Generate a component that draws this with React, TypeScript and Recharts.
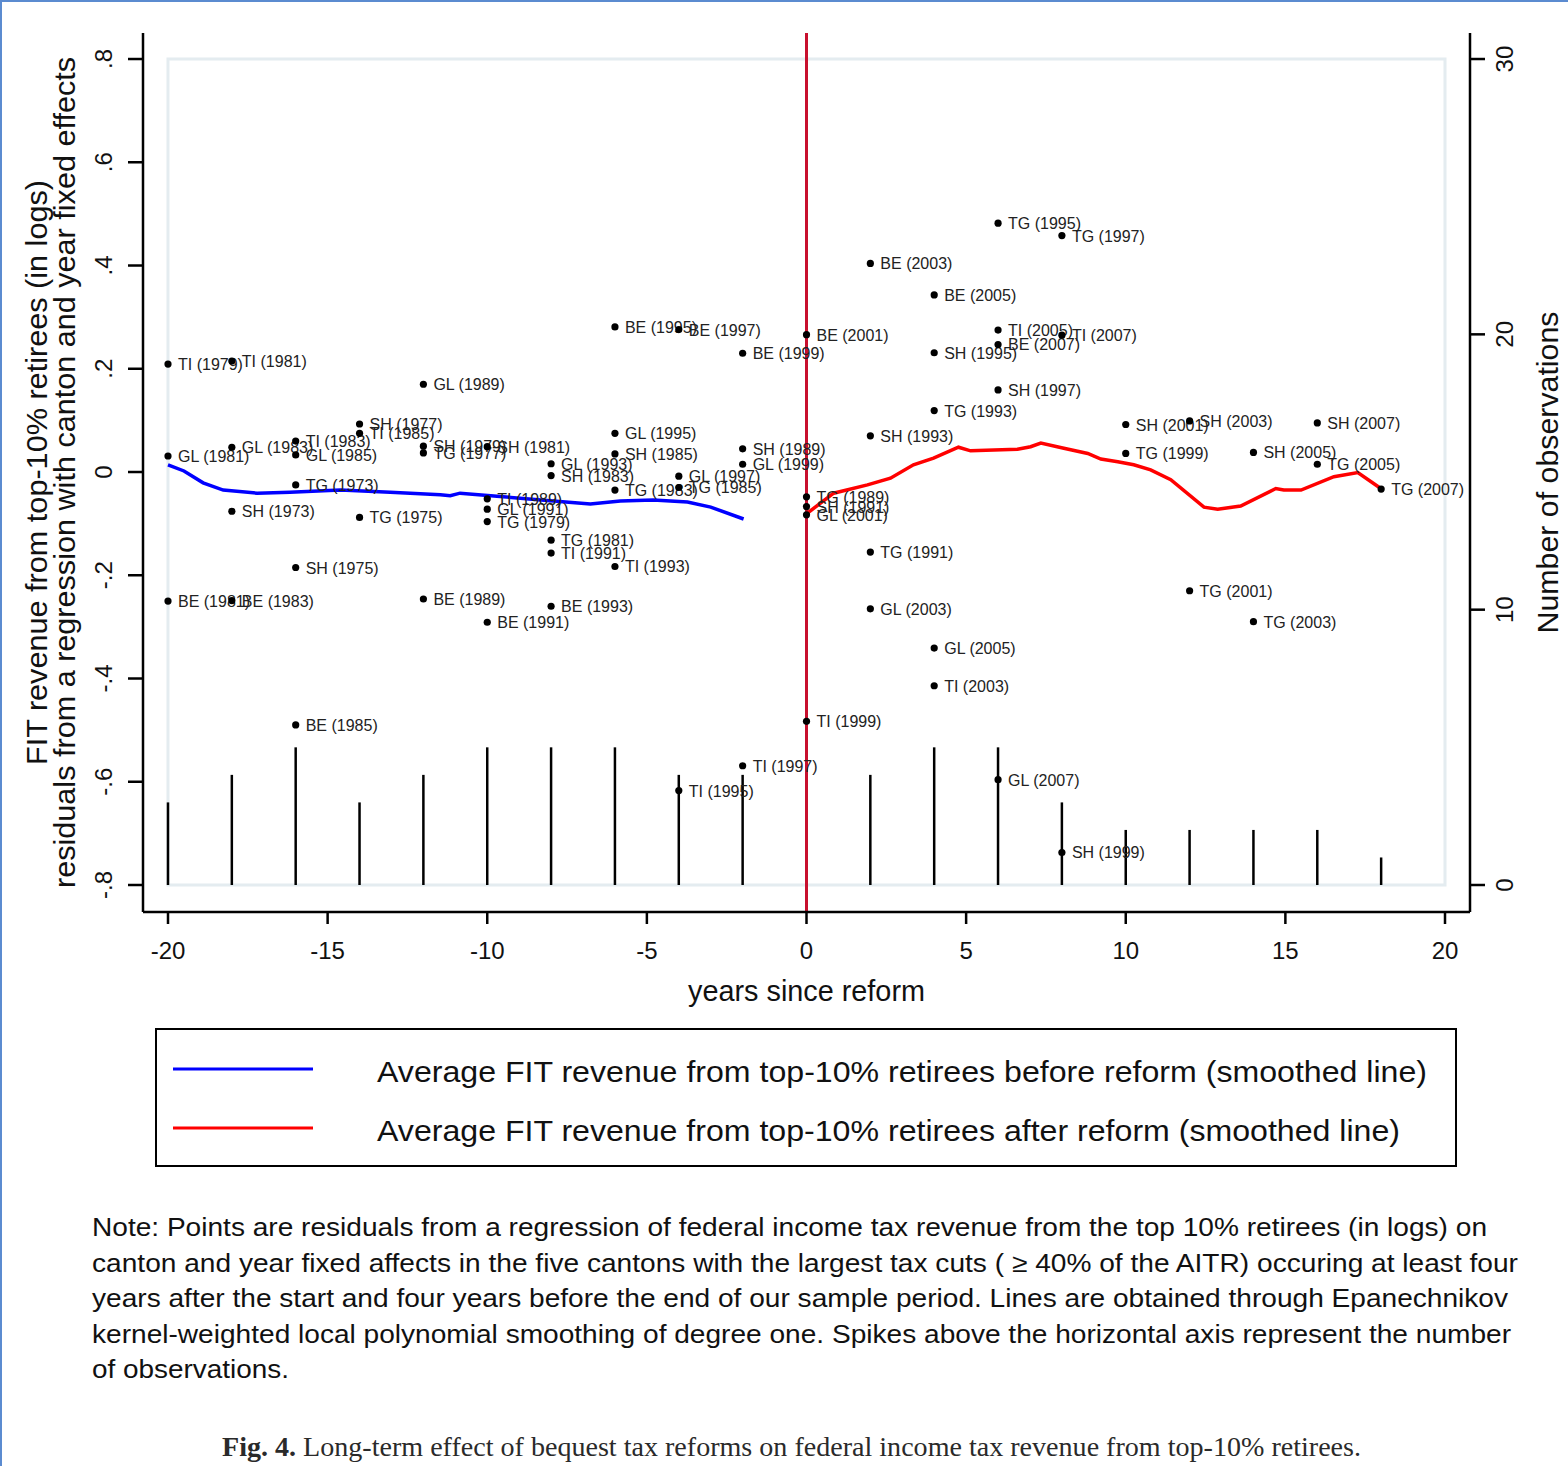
import React from 'react';
import {
  Bar,
  ComposedChart,
  Legend,
  Line,
  ReferenceArea,
  ReferenceLine,
  Scatter,
  XAxis,
  YAxis,
} from 'recharts';

const FONT = '"Liberation Sans", Arial, sans-serif';

// years since reform where observations exist, and how many of them
const SPIKE_X = [-20, -18, -16, -14, -12, -10, -8, -6, -4, -2, 0, 2, 4, 6, 8, 10, 12, 14, 16, 18];
const OBS_COUNT = [3, 4, 5, 3, 4, 5, 5, 5, 4, 4, 5, 4, 5, 5, 3, 2, 2, 2, 2, 1];

// residuals, canton (year)
const RESIDUALS = [
  { label: 'TI (1979)', x: -20, y: 0.209 },
  { label: 'GL (1981)', x: -20, y: 0.031 },
  { label: 'BE (1981)', x: -20, y: -0.25 },
  { label: 'TI (1981)', x: -18, y: 0.215 },
  { label: 'GL (1983)', x: -18, y: 0.048 },
  { label: 'SH (1973)', x: -18, y: -0.076 },
  { label: 'BE (1983)', x: -18, y: -0.249 },
  { label: 'TI (1983)', x: -16, y: 0.06 },
  { label: 'GL (1985)', x: -16, y: 0.033 },
  { label: 'TG (1973)', x: -16, y: -0.025 },
  { label: 'SH (1975)', x: -16, y: -0.185 },
  { label: 'BE (1985)', x: -16, y: -0.49 },
  { label: 'SH (1977)', x: -14, y: 0.093 },
  { label: 'TI (1985)', x: -14, y: 0.075 },
  { label: 'TG (1975)', x: -14, y: -0.088 },
  { label: 'GL (1989)', x: -12, y: 0.17 },
  { label: 'SH (1979)', x: -12, y: 0.05 },
  { label: 'TG (1977)', x: -12, y: 0.037 },
  { label: 'BE (1989)', x: -12, y: -0.246 },
  { label: 'SH (1981)', x: -10, y: 0.049 },
  { label: 'TI (1989)', x: -10, y: -0.052 },
  { label: 'GL (1991)', x: -10, y: -0.072 },
  { label: 'TG (1979)', x: -10, y: -0.096 },
  { label: 'BE (1991)', x: -10, y: -0.291 },
  { label: 'GL (1993)', x: -8, y: 0.016 },
  { label: 'SH (1983)', x: -8, y: -0.007 },
  { label: 'TG (1981)', x: -8, y: -0.132 },
  { label: 'TI (1991)', x: -8, y: -0.157 },
  { label: 'BE (1993)', x: -8, y: -0.26 },
  { label: 'BE (1995)', x: -6, y: 0.281 },
  { label: 'GL (1995)', x: -6, y: 0.075 },
  { label: 'SH (1985)', x: -6, y: 0.035 },
  { label: 'TG (1983)', x: -6, y: -0.035 },
  { label: 'TI (1993)', x: -6, y: -0.183 },
  { label: 'BE (1997)', x: -4, y: 0.276 },
  { label: 'GL (1997)', x: -4, y: -0.008 },
  { label: 'TG (1985)', x: -4, y: -0.03 },
  { label: 'TI (1995)', x: -4, y: -0.617 },
  { label: 'BE (1999)', x: -2, y: 0.23 },
  { label: 'SH (1989)', x: -2, y: 0.045 },
  { label: 'GL (1999)', x: -2, y: 0.015 },
  { label: 'TI (1997)', x: -2, y: -0.569 },
  { label: 'BE (2001)', x: 0, y: 0.266 },
  { label: 'TG (1989)', x: 0, y: -0.048 },
  { label: 'SH (1991)', x: 0, y: -0.067 },
  { label: 'GL (2001)', x: 0, y: -0.083 },
  { label: 'TI (1999)', x: 0, y: -0.483 },
  { label: 'BE (2003)', x: 2, y: 0.404 },
  { label: 'SH (1993)', x: 2, y: 0.07 },
  { label: 'TG (1991)', x: 2, y: -0.155 },
  { label: 'GL (2003)', x: 2, y: -0.265 },
  { label: 'BE (2005)', x: 4, y: 0.343 },
  { label: 'SH (1995)', x: 4, y: 0.231 },
  { label: 'TG (1993)', x: 4, y: 0.119 },
  { label: 'GL (2005)', x: 4, y: -0.341 },
  { label: 'TI (2003)', x: 4, y: -0.414 },
  { label: 'TG (1995)', x: 6, y: 0.482 },
  { label: 'TI (2005)', x: 6, y: 0.275 },
  { label: 'BE (2007)', x: 6, y: 0.247 },
  { label: 'SH (1997)', x: 6, y: 0.159 },
  { label: 'GL (2007)', x: 6, y: -0.596 },
  { label: 'TG (1997)', x: 8, y: 0.458 },
  { label: 'TI (2007)', x: 8, y: 0.265 },
  { label: 'SH (1999)', x: 8, y: -0.737 },
  { label: 'SH (2001)', x: 10, y: 0.092 },
  { label: 'TG (1999)', x: 10, y: 0.036 },
  { label: 'SH (2003)', x: 12, y: 0.099 },
  { label: 'TG (2001)', x: 12, y: -0.23 },
  { label: 'SH (2005)', x: 14, y: 0.038 },
  { label: 'TG (2003)', x: 14, y: -0.29 },
  { label: 'SH (2007)', x: 16, y: 0.095 },
  { label: 'TG (2005)', x: 16, y: 0.015 },
  { label: 'TG (2007)', x: 18, y: -0.033 },
];

// smoothed lines
const BEFORE_X = [-20, -19.5, -18.9, -18.27, -17.21, -16.18, -14.6, -13.04, -11.47, -11.16, -10.85, -9.5, -7.93, -6.77, -5.83, -4.8, -3.73, -3.0, -1.97];
const BEFORE_Y = [0.014, 0.002, -0.021, -0.035, -0.041, -0.039, -0.035, -0.039, -0.044, -0.046, -0.041, -0.048, -0.056, -0.062, -0.056, -0.054, -0.058, -0.068, -0.091];
const AFTER_X = [0.02, 0.85, 1.91, 2.63, 3.35, 3.98, 4.76, 5.14, 6.61, 7.02, 7.34, 8.06, 8.81, 9.22, 9.75, 10.25, 10.78, 11.41, 12.45, 12.88, 13.6, 14.7, 14.95, 15.49, 16.52, 17.27, 17.99];
const AFTER_Y = [-0.08, -0.041, -0.025, -0.012, 0.014, 0.027, 0.048, 0.041, 0.044, 0.049, 0.056, 0.046, 0.036, 0.025, 0.02, 0.014, 0.004, -0.015, -0.068, -0.072, -0.066, -0.032, -0.035, -0.035, -0.009, -0.001, -0.032];

const X_TICKS = [-20, -15, -10, -5, 0, 5, 10, 15, 20];
const Y_TICKS = [-0.8, -0.6, -0.4, -0.2, 0, 0.2, 0.4, 0.6, 0.8];
const COUNT_TICKS = [0, 10, 20, 30];

const BEFORE_NAME = 'Average FIT revenue from top-10% retirees before reform (smoothed line)';
const AFTER_NAME = 'Average FIT revenue from top-10% retirees after reform (smoothed line)';
const LEGEND_ORDER = [BEFORE_NAME, AFTER_NAME];

const NOTE_LINES = [
  'Note: Points are residuals from a regression of federal income tax revenue from the top 10% retirees (in logs) on',
  'canton and year fixed affects in the five cantons with the largest tax cuts ( \u2265 40% of the AITR) occuring at least four',
  'years after the start and four years before the end of our sample period. Lines are obtained through Epanechnikov',
  'kernel-weighted local polynomial smoothing of degree one. Spikes above the horizontal axis represent the number',
  'of observations.',
];
const NOTE_WIDTHS = [1395, 1426, 1416, 1419, 197];

const spikes = SPIKE_X.map((x, i) => ({ x, count: OBS_COUNT[i] }));
const before = BEFORE_X.map((x, i) => ({ x, y: BEFORE_Y[i] }));
const after = AFTER_X.map((x, i) => ({ x, y: AFTER_Y[i] }));

// left axis runs -.8..8 on the same pixels as 0..30 observations on the right
const Y_DOMAIN: [number, number] = [-0.8523, 0.8504];
const toCount = (v: number) => ((v + 0.8) / 1.6) * 30;

const fmtResid = (v: number) =>
  Math.abs(v) < 1e-9 ? '0' : (v < 0 ? '-' : '') + '.' + Math.round(Math.abs(v) * 10);

const LeftTick = (p: any) => (
  <text
    x={p.x - 22}
    y={p.y}
    transform={`rotate(-90 ${p.x - 22} ${p.y})`}
    textAnchor="middle"
    dominantBaseline="central"
    fontSize={24}
    fontFamily={FONT}
    fill="#111"
  >
    {fmtResid(p.payload.value)}
  </text>
);

const RightTick = (p: any) => (
  <text
    x={p.x + 18}
    y={p.y}
    transform={`rotate(-90 ${p.x + 18} ${p.y})`}
    textAnchor="middle"
    dominantBaseline="central"
    fontSize={24}
    fontFamily={FONT}
    fill="#111"
  >
    {p.payload.value}
  </text>
);

const BottomTick = (p: any) => (
  <text
    x={p.x}
    y={p.y + 24}
    textAnchor="middle"
    dominantBaseline="central"
    fontSize={24}
    fontFamily={FONT}
    fill="#111"
  >
    {p.payload.value}
  </text>
);

// spike: a thin stem from the zero count up to the bar top
const Spike = (p: any) => {
  const cx = p.x + p.width / 2;
  return <line x1={cx} x2={cx} y1={p.y} y2={p.y + p.height} stroke="#000" strokeWidth={2.5} />;
};

const ResidualDot = (p: any) => {
  const { cx, cy, payload } = p;
  return (
    <g>
      <circle cx={cx} cy={cy} r={3.6} fill="#000" />
      <text x={cx + 10} y={cy + 6} fontSize={16} fontFamily={FONT} fill="#222">
        {payload.label}
      </text>
    </g>
  );
};

const LeftTitle = (p: any) => {
  const vb = p.viewBox;
  const cy = vb.y + vb.height / 2;
  return (
    <g fontFamily={FONT} fontSize={30} fill="#111">
      <text x={36} y={cy} transform={`rotate(-90 36 ${cy})`} textAnchor="middle" dominantBaseline="central" textLength={585} lengthAdjust="spacingAndGlyphs">
        FIT revenue from top-10% retirees (in logs)
      </text>
      <text x={64} y={cy} transform={`rotate(-90 64 ${cy})`} textAnchor="middle" dominantBaseline="central" textLength={831} lengthAdjust="spacingAndGlyphs">
        residuals from a regression with canton and year fixed effects
      </text>
    </g>
  );
};

const RightTitle = (p: any) => {
  const vb = p.viewBox;
  const cx = vb.x + 77;
  const cy = vb.y + vb.height / 2;
  return (
    <text x={cx} y={cy} transform={`rotate(-90 ${cx} ${cy})`} textAnchor="middle" dominantBaseline="central" fontFamily={FONT} fontSize={30} fill="#111" textLength={322} lengthAdjust="spacingAndGlyphs">
      Number of observations
    </text>
  );
};

const BottomTitle = (p: any) => {
  const vb = p.viewBox;
  return (
    <text x={vb.x + vb.width / 2} y={vb.y + 79} textAnchor="middle" dominantBaseline="central" fontFamily={FONT} fontSize={29} fill="#111" textLength={237} lengthAdjust="spacingAndGlyphs">
      years since reform
    </text>
  );
};

const LegendBox = (p: any) => {
  const items = (p.payload || [])
    .filter((e: any) => LEGEND_ORDER.includes(e.value))
    .sort((a: any, b: any) => LEGEND_ORDER.indexOf(a.value) - LEGEND_ORDER.indexOf(b.value));
  const widths = [1050, 1023];
  return (
    <svg width={1302} height={139} style={{ display: 'block' }}>
      <rect x={1} y={1} width={1300} height={137} fill="#fff" stroke="#000" strokeWidth={2} />
      {items.map((e: any, i: number) => (
        <g key={i}>
          <line x1={18} x2={158} y1={41 + i * 59} y2={41 + i * 59} stroke={e.color} strokeWidth={3} />
          <text x={222} y={43 + i * 59} dominantBaseline="central" fontFamily={FONT} fontSize={30} fill="#111" textLength={widths[i]} lengthAdjust="spacingAndGlyphs">
            {e.value}
          </text>
        </g>
      ))}
    </svg>
  );
};

export default function App() {
  return (
    <div
      style={{
        position: 'absolute',
        left: 0,
        top: 0,
        width: 1566,
        height: 1464,
        background: '#fff',
        borderTop: '2px solid #5b8bd0',
        borderLeft: '2px solid #5b8bd0',
      }}
    >
      <div style={{ position: 'absolute', left: -2, top: -2 }}>
        {/* bottom margin + axis height + legend height leave the plot ending at y=912 */}
        <ComposedChart
          width={1568}
          height={1180}
          data={spikes}
          margin={{ top: 33, right: 0, bottom: 31, left: 0 }}
        >
          <ReferenceArea
            yAxisId="left"
            x1={-20}
            x2={20}
            y1={-0.8}
            y2={0.8}
            fill="none"
            stroke="#e4ecf0"
            strokeWidth={3}
          />
          <XAxis
            dataKey="x"
            type="number"
            domain={[-20.783, 20.783]}
            ticks={X_TICKS}
            allowDataOverflow
            height={98}
            tickSize={12}
            tick={BottomTick}
            axisLine={{ stroke: '#000', strokeWidth: 2.5 }}
            tickLine={{ stroke: '#000', strokeWidth: 2.5 }}
            label={{ content: BottomTitle }}
          />
          <YAxis
            yAxisId="left"
            type="number"
            domain={Y_DOMAIN}
            ticks={Y_TICKS}
            allowDataOverflow
            width={143}
            tickSize={15}
            tick={LeftTick}
            axisLine={{ stroke: '#000', strokeWidth: 2.5 }}
            tickLine={{ stroke: '#000', strokeWidth: 2.5 }}
            label={{ content: LeftTitle }}
          />
          <YAxis
            yAxisId="right"
            orientation="right"
            type="number"
            domain={[toCount(Y_DOMAIN[0]), toCount(Y_DOMAIN[1])]}
            ticks={COUNT_TICKS}
            allowDataOverflow
            width={98}
            tickSize={15}
            tick={RightTick}
            axisLine={{ stroke: '#000', strokeWidth: 2.5 }}
            tickLine={{ stroke: '#000', strokeWidth: 2.5 }}
            label={{ content: RightTitle }}
          />
          <ReferenceLine yAxisId="left" x={0} stroke="#c8102e" strokeWidth={3} />
          <Bar
            yAxisId="right"
            dataKey="count"
            fill="#000"
            barSize={3}
            shape={Spike}
            legendType="none"
            isAnimationActive={false}
          />
          <Line
            yAxisId="left"
            data={before}
            dataKey="y"
            name={BEFORE_NAME}
            type="linear"
            stroke="#0000ff"
            strokeWidth={3.5}
            dot={false}
            activeDot={false}
            legendType="line"
            isAnimationActive={false}
          />
          <Line
            yAxisId="left"
            data={after}
            dataKey="y"
            name={AFTER_NAME}
            type="linear"
            stroke="#ff0000"
            strokeWidth={3.5}
            dot={false}
            activeDot={false}
            legendType="line"
            isAnimationActive={false}
          />
          <Scatter
            yAxisId="left"
            data={RESIDUALS}
            dataKey="y"
            shape={ResidualDot}
            legendType="none"
            isAnimationActive={false}
          />
          <Legend
            layout="vertical"
            align="center"
            verticalAlign="bottom"
            content={LegendBox}
            wrapperStyle={{ left: 155, top: 1028, bottom: 'auto', width: 1302, height: 139 }}
          />
        </ComposedChart>
      </div>
      <svg
        width={1568}
        height={286}
        style={{ position: 'absolute', left: -2, top: 1178 }}
      >
        {NOTE_LINES.map((t, i) => (
          <text
            key={i}
            x={92}
            y={56 + i * 35.5}
            fontFamily={FONT}
            fontSize={26}
            fill="#111"
            textLength={NOTE_WIDTHS[i]}
            lengthAdjust="spacingAndGlyphs"
          >
            {t}
          </text>
        ))}
        <text
          x={222}
          y={276}
          fontFamily='"Liberation Serif", "Times New Roman", serif'
          fontSize={27}
          fill="#2a2a2a"
          textLength={1139}
          lengthAdjust="spacingAndGlyphs"
        >
          <tspan fontWeight="bold">Fig. 4.</tspan> Long-term effect of bequest tax reforms on federal income tax revenue from top-10% retirees.
        </text>
      </svg>
    </div>
  );
}
